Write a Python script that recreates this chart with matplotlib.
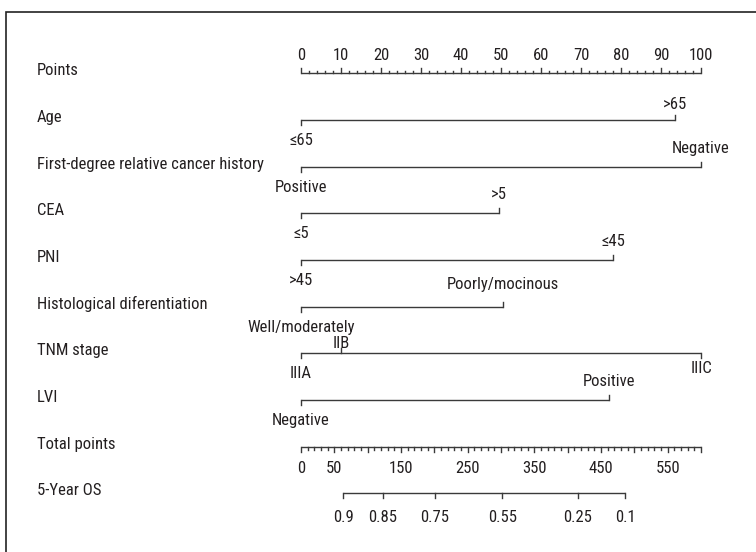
import matplotlib.pyplot as plt
from matplotlib import font_manager as fm
from matplotlib.font_manager import FontProperties
from matplotlib.patches import Rectangle
import numpy as np

# nomogram content
points_ticks = list(range(0, 101, 10))
variables = ["Age", "First-degree relative cancer history", "CEA", "PNI",
             "Histological diferentiation", "TNM stage", "LVI"]
levels = [["≤65", ">65"],
          ["Positive", "Negative"],
          ["≤5", ">5"],
          [">45", "≤45"],
          ["Well/moderately", "Poorly/mocinous"],
          ["IIIA", "IIB", "IIIC"],
          ["Negative", "Positive"]]
scores = [[0, 93.5],
          [0, 100],
          [0, 49.5],
          [0, 78],
          [0, 50.5],
          [0, 10, 100],
          [0, 77]]
total_max = 600
total_ticks = [0, 50, 150, 250, 350, 450, 550]
os_labels = ["0.9", "0.85", "0.75", "0.55", "0.25", "0.1"]
os_total_points = [63, 123, 201, 302, 415, 486]


def pick_font():
    # the original uses a condensed sans; take whatever condensed face is installed
    fonts = [f for f in fm.fontManager.ttflist
             if f.style == 'normal' and f.weight in (400, 'normal', 'regular')]
    for name in ['Roboto Condensed', 'Noto Sans Condensed', 'Liberation Sans Narrow',
                 'Open Sans Condensed']:
        for f in fonts:
            if f.name == name:
                return f.fname
    for fam in ['Roboto', 'Noto Sans', 'DejaVu Sans', 'Open Sans', 'Liberation Sans']:
        for f in fonts:
            if f.name == fam and f.stretch in ('condensed', 'semi-condensed'):
                return f.fname
    return None


fname = pick_font()
fs = 12
if fname:
    fp = FontProperties(fname=fname, size=fs)
else:
    fp = FontProperties(family='Liberation Sans', size=fs - 1)

W, H = 756, 552
fig = plt.figure(figsize=(W / 100, H / 100), dpi=100)
ax = fig.add_axes([0, 0, 1, 1])
ax.set_axis_off()

# layout: 4 px per point, 0 at x=301; rows 46.67 px apart, first at y=73.3
ppx = 4.0
x0 = 301
row_h = 46.67
y0 = 73.3
ax.set_xlim(-x0 / ppx, (W - x0) / ppx)
ax.set_ylim((H - y0) / row_h, -y0 / row_h)
px = 1 / row_h  # one pixel in row units

lc = '#3a3a3a'
tc = '#231f20'
lw = 1.0
label_x = (37 - x0) / ppx


def txt(x, y, s, ha='center'):
    ax.text(x, y, s, ha=ha, va='baseline', fontproperties=fp, color=tc)


row_names = ["Points"] + variables + ["Total points", "5-Year OS"]
for i, name in enumerate(row_names):
    txt(label_x, i + 2 * px, name, ha='left')

# Points axis (ticks up, labels above)
ax.plot([0, 100], [0, 0], color=lc, lw=lw, solid_capstyle='butt')
for p in np.arange(0, 101, 2):
    major = p % 10 == 0
    ax.plot([p, p], [0, -(5 if major else 2.5) * px], color=lc, lw=lw)
for p in points_ticks:
    txt(p, -13 * px, str(p))

# per-label vertical nudges (pixels, baseline relative to line)
above_off = -14
below_off = 25
nudge = {"IIB": -5, "IIIC": 20, ">65": -11, "Poorly/mocinous": -18}

# variable rows
for i, (lv, sc) in enumerate(zip(levels, scores)):
    r = i + 1
    ax.plot([min(sc), max(sc)], [r, r], color=lc, lw=lw, solid_capstyle='butt')
    for k, (name, s) in enumerate(zip(lv, sc)):
        above = k % 2 == 1
        d = -1 if above else 1
        ax.plot([s, s], [r, r + d * 5 * px], color=lc, lw=lw)
        off = nudge.get(name, above_off if above else below_off)
        txt(s, r + off * px, name)

# Total points axis (ticks down, labels below)
r = len(variables) + 1
scale = 100 / total_max
ax.plot([0, 100], [r, r], color=lc, lw=lw, solid_capstyle='butt')
for t in range(0, total_max + 1, 10):
    major = t % 50 == 0
    ax.plot([t * scale] * 2, [r, r + (5 if major else 3.5) * px], color=lc, lw=lw)
for t in total_ticks:
    txt(t * scale, r + 26 * px, str(t))

# 5-Year OS axis
r = len(variables) + 2
os_x = [t * scale for t in os_total_points]
ax.plot([min(os_x), max(os_x)], [r, r], color=lc, lw=lw, solid_capstyle='butt')
for x, lab in zip(os_x, os_labels):
    ax.plot([x, x], [r, r + 5 * px], color=lc, lw=lw)
    txt(x, r + 29 * px, lab)

# outer frame (right and bottom edges fall outside the picture)
fig.patches.append(Rectangle((6 / W, -0.1), 1.2, 1 - 12 / H + 0.1, transform=fig.transFigure,
                             fill=False, edgecolor='#222222', lw=1.2))

fig.savefig('out.png', dpi=100)
